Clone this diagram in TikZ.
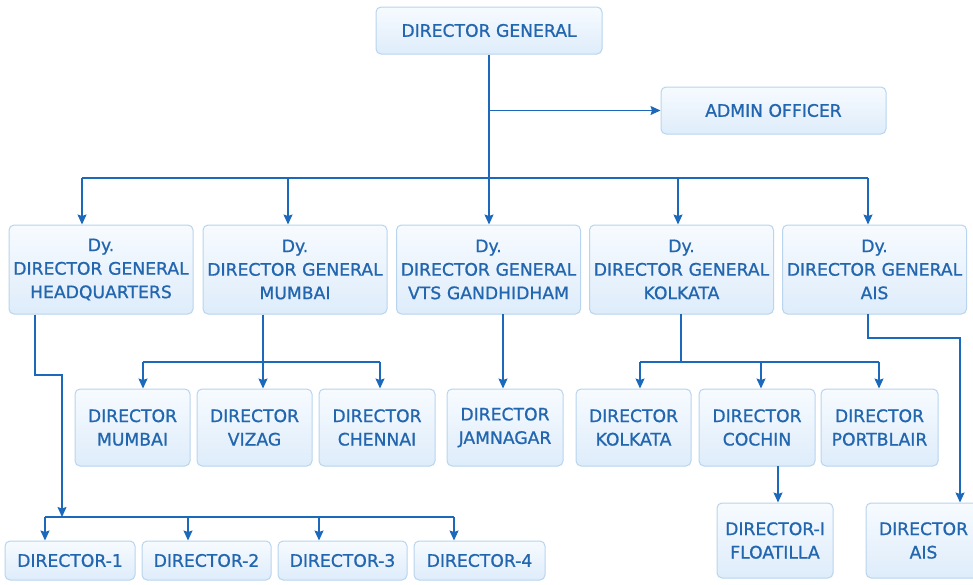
\documentclass[tikz,border=0pt]{standalone}
\usepackage{fontspec}
\setmainfont[FakeBold=0.9]{DejaVu Sans}
\usetikzlibrary{arrows.meta}
\definecolor{linecol}{RGB}{28,104,186}
\definecolor{textcol}{RGB}{34,102,176}
\definecolor{bordercol}{RGB}{184,212,238}
\definecolor{filltop}{RGB}{247,251,255}
\definecolor{fillbot}{RGB}{222,236,250}
\tikzset{
  box/.style={draw=bordercol, line width=1pt, rounded corners=5pt, top color=filltop, bottom color=fillbot,
    text=textcol, align=center, inner sep=0pt, font=\fontsize{17.2}{23.5}\selectfont},
  conn/.style={draw=linecol, line width=1.3pt},
  arr/.style={conn, -{Stealth[length=10pt,width=9pt,inset=1.5pt]}}
}
\begin{document}
\begin{tikzpicture}[x=1pt,y=-1pt]
\useasboundingbox (0,0) rectangle (973,584);
\begin{scope}
\clip (0,0) rectangle (973,584);
% top
\node[box, minimum width=226, minimum height=47] (dg) at (489,30.5) {DIRECTOR GENERAL};
\node[box, minimum width=225, minimum height=47] (admin) at (773.5,110.5) {ADMIN OFFICER};
% Dy row
\node[box, text width=184, minimum width=184, minimum height=89] (hq) at (101,269.5) {Dy.\\DIRECTOR GENERAL\\HEADQUARTERS};
\node[box, text width=184, minimum width=184, minimum height=89] (mum) at (295,269.5) {Dy.\\DIRECTOR GENERAL\\MUMBAI};
\node[box, text width=184, minimum width=184, minimum height=89] (vts) at (488.5,269.5) {Dy.\\DIRECTOR GENERAL\\VTS GANDHIDHAM};
\node[box, text width=184, minimum width=184, minimum height=89] (kol) at (681.5,269.5) {Dy.\\DIRECTOR GENERAL\\KOLKATA};
\node[box, text width=184, minimum width=184, minimum height=89] (ais) at (874.5,269.5) {Dy.\\DIRECTOR GENERAL\\AIS};
% director row
\node[box, minimum width=115, minimum height=77] (dmum) at (132.5,427.5) {DIRECTOR\\MUMBAI};
\node[box, minimum width=115, minimum height=77] (dviz) at (254.5,427.5) {DIRECTOR\\VIZAG};
\node[box, minimum width=116, minimum height=77] (dche) at (377,427.5) {DIRECTOR\\CHENNAI};
\node[box, minimum width=116, minimum height=77] (djam) at (505,427.5) {DIRECTOR\\JAMNAGAR};
\node[box, minimum width=115, minimum height=77] (dkol) at (633.5,427.5) {DIRECTOR\\KOLKATA};
\node[box, minimum width=116, minimum height=77] (dcoc) at (757,427.5) {DIRECTOR\\COCHIN};
\node[box, minimum width=117, minimum height=77] (dpor) at (879.5,427.5) {DIRECTOR\\PORTBLAIR};
\node[box, minimum width=116, minimum height=75] (dflo) at (775,540.5) {DIRECTOR-I\\FLOATILLA};
\node[box, minimum width=115, minimum height=75] (dais) at (923.5,540.5) {DIRECTOR\\AIS};
% bottom row
\node[box, minimum width=130, minimum height=39] (d1) at (70,560.5) {DIRECTOR-1};
\node[box, minimum width=129, minimum height=39] (d2) at (206.5,560.5) {DIRECTOR-2};
\node[box, minimum width=129, minimum height=39] (d3) at (342.5,560.5) {DIRECTOR-3};
\node[box, minimum width=131, minimum height=39] (d4) at (479.5,560.5) {DIRECTOR-4};
\end{scope}
% coordinates
\coordinate (jadm) at (489,110.5);
\coordinate (bus) at (489,178);
\coordinate (bA) at (82,178);
\coordinate (bB) at (288,178);
\coordinate (bC) at (489,178);
\coordinate (bD) at (678,178);
\coordinate (bE) at (868,178);
% DG connectors
\draw[conn] (dg.south) -- (bus);
\draw[arr] (jadm) -- (admin.west);
\draw[conn] (bA) -- (bE);
\draw[arr] (bA) -- (bA |- hq.north);
\draw[arr] (bB) -- (bB |- mum.north);
\draw[arr] (bC) -- (bC |- vts.north);
\draw[arr] (bD) -- (bD |- kol.north);
\draw[arr] (bE) -- (bE |- ais.north);
% HQ
\coordinate (hqo) at ([xshift=-66]hq.south);
\coordinate (hbus) at (62,517);
\coordinate (h1) at (45,517);
\coordinate (h2) at (188,517);
\coordinate (h3) at (319,517);
\coordinate (h4) at (454,517);
\draw[arr] (hqo) -- (35,375) -- (62,375) -- (hbus);
\draw[conn] (h1) -- (h4);
\draw[arr] (h1) -- (h1 |- d1.north);
\draw[arr] (h2) -- (h2 |- d2.north);
\draw[arr] (h3) -- (h3 |- d3.north);
\draw[arr] (h4) -- (h4 |- d4.north);
% Mumbai
\coordinate (mo) at ([xshift=-32]mum.south);
\coordinate (mb) at (263,362);
\coordinate (m1) at (143,362);
\coordinate (m3) at (380,362);
\draw[conn] (mo) -- (mb);
\draw[conn] (m1) -- (m3);
\draw[arr] (m1) -- (m1 |- dmum.north);
\draw[arr] (mb) -- (mb |- dviz.north);
\draw[arr] (m3) -- (m3 |- dche.north);
% VTS
\coordinate (vo) at (503,314);
\draw[arr] (vo) -- (vo |- djam.north);
% Kolkata
\coordinate (ko) at (681,314);
\coordinate (kb) at (681,362);
\coordinate (k1) at (640,362);
\coordinate (k2) at (761,362);
\coordinate (k3) at (879,362);
\draw[conn] (ko) -- (kb);
\draw[conn] (k1) -- (k3);
\draw[arr] (k1) -- (k1 |- dkol.north);
\draw[arr] (k2) -- (k2 |- dcoc.north);
\draw[arr] (k3) -- (k3 |- dpor.north);
% Cochin
\coordinate (co) at (778,466);
\draw[arr] (co) -- (co |- dflo.north);
% AIS
\coordinate (ao) at (868,314);
\coordinate (ab) at (960,338);
\draw[arr] (ao) -- (868,338) -- (ab) -- (ab |- dais.north);
\end{tikzpicture}
\end{document}
